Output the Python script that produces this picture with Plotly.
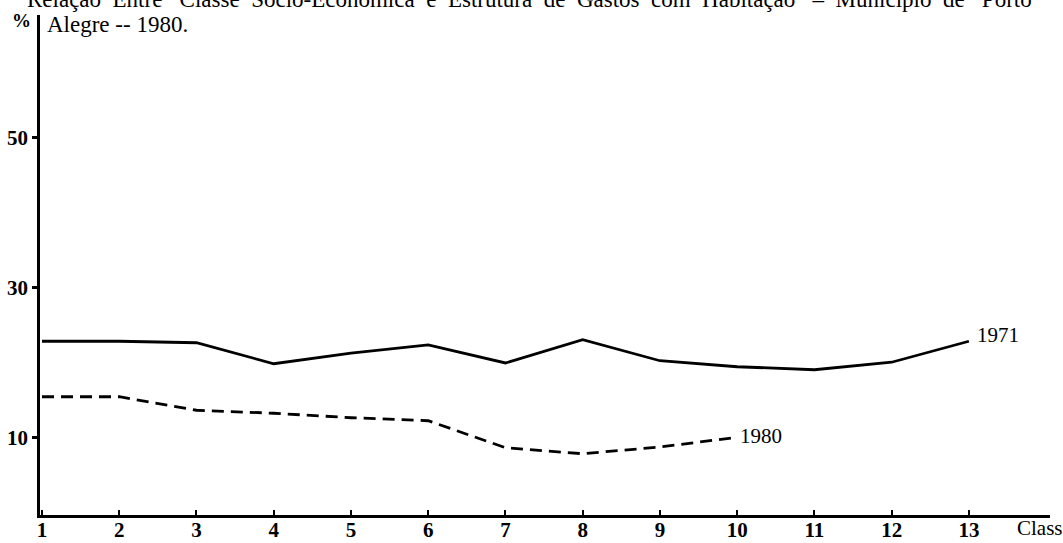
import plotly.graph_objects as go

classes = list(range(1, 14))
tick_labels = [str(c) for c in classes]
y1971 = [22.9, 22.9, 22.7, 19.9, 21.3, 22.4, 20.0, 23.1, 20.3, 19.5, 19.1, 20.1, 22.9]
classes1980 = list(range(1, 11))
y1980 = [15.5, 15.5, 13.7, 13.3, 12.7, 12.3, 8.7, 7.9, 8.8, 10.1]
y_ticks = [10, 30, 50]

SERIF = "Liberation Serif"
TOP, BOTTOM, LEFT, RIGHT = 15, 515, 40, 1050

fig = go.Figure()
fig.add_trace(go.Scatter(x=classes, y=y1971, mode="lines", name="1971",
                         line=dict(color="black", width=2.8), showlegend=False))
fig.add_trace(go.Scatter(x=classes1980, y=y1980, mode="lines", name="1980",
                         line=dict(color="black", width=2.8, dash="12px,7px"),
                         showlegend=False))

fig.update_layout(
    width=1063, height=543,
    margin=dict(l=LEFT, r=1063 - RIGHT, t=TOP, b=543 - BOTTOM),
    paper_bgcolor="white", plot_bgcolor="white",
    font=dict(family=SERIF, color="black"),
    xaxis=dict(range=[0.974, 14.05], tickmode="array", tickvals=classes,
               ticktext=tick_labels, ticks="inside", ticklen=5, tickwidth=2,
               tickcolor="black", showline=True, linewidth=2.5, linecolor="black",
               showgrid=False, zeroline=False, automargin=False,
               ticklabelstandoff=-6,
               tickfont=dict(family=SERIF, size=21, weight="bold")),
    yaxis=dict(range=[-0.27, 66.4], tickmode="array", tickvals=y_ticks,
               ticktext=[str(v) for v in y_ticks], ticks="outside", ticklen=5,
               tickwidth=2.5, tickcolor="black", showline=True, linewidth=2.5,
               linecolor="black", showgrid=False, zeroline=False, automargin=False,
               tickfont=dict(family=SERIF, size=21, weight="bold")),
)

ann_font = dict(family=SERIF, size=21, color="black")
fig.add_annotation(x=13.08, y=23.7, xref="x", yref="y", text="1971",
                   showarrow=False, xanchor="left", yanchor="middle", font=ann_font)
fig.add_annotation(x=10.01, y=10.3, xref="x", yref="y", text="1980",
                   showarrow=False, xanchor="left", yanchor="middle", font=ann_font)

def px_x(p):
    return (p - LEFT) / (RIGHT - LEFT)

def px_y(p):
    return (BOTTOM - p) / (BOTTOM - TOP)

fig.add_annotation(x=px_x(25), y=px_y(0), xref="paper", yref="paper",
                   text="Relação  Entre   Classe  Sócio-Econômica  e  Estrutura  de  Gastos  com  Habitação   –  Município  de   Porto",
                   showarrow=False, xanchor="left", yanchor="middle",
                   font=dict(family=SERIF, size=23, color="black"))
fig.add_annotation(x=px_x(45), y=px_y(24), xref="paper", yref="paper",
                   text="Alegre -- 1980.", showarrow=False, xanchor="left",
                   yanchor="middle", font=dict(family=SERIF, size=23, color="black"))
fig.add_annotation(x=px_x(21), y=px_y(20), xref="paper", yref="paper",
                   text="%", showarrow=False, xanchor="center", yanchor="middle",
                   font=dict(family=SERIF, size=19, color="black", weight="bold"))
fig.add_annotation(x=px_x(1015), y=px_y(528), xref="paper", yref="paper",
                   text="Classe", showarrow=False, xanchor="left", yanchor="middle",
                   font=dict(family=SERIF, size=21, color="black"))

fig.write_html("out.html", config={"displayModeBar": False},
               post_script="document.body.style.margin='0';")
